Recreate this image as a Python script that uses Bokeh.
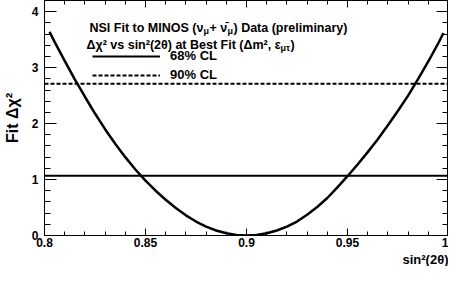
from bokeh.plotting import figure
from bokeh.models import Label, Legend, LegendItem, LinearAxis, FixedTicker, Range1d, Title
from bokeh.embed import file_html
from bokeh.resources import INLINE

# ---- data ----
sin2_2theta = [0.8025, 0.805, 0.81, 0.815, 0.82, 0.825, 0.83, 0.835, 0.84, 0.845, 0.85,
               0.855, 0.86, 0.865, 0.87, 0.875, 0.88, 0.885, 0.89, 0.895, 0.90,
               0.905, 0.91, 0.915, 0.92, 0.925, 0.93, 0.935, 0.94, 0.945, 0.95,
               0.955, 0.96, 0.965, 0.97, 0.975, 0.98, 0.985, 0.99, 0.995, 0.9975]
delta_chi2 = [3.64, 3.46, 3.12, 2.79, 2.48, 2.18, 1.90, 1.64, 1.40, 1.18, 0.98,
              0.80, 0.64, 0.49, 0.36, 0.25, 0.16, 0.09, 0.04, 0.01, 0.00,
              0.01, 0.04, 0.09, 0.16, 0.25, 0.37, 0.51, 0.67, 0.86, 1.06,
              1.27, 1.49, 1.72, 1.97, 2.23, 2.50, 2.80, 3.11, 3.44, 3.62]
cl_labels = ["68% CL", "90% CL"]
cl_levels = [1.07, 2.71]
x_ticks = [0.8, 0.85, 0.9, 0.95, 1.0]
x_tick_labels = ["0.8", "0.85", "0.9", "0.95", "1"]
y_ticks = [0, 1, 2, 3, 4]
y_tick_labels = ["0", "1", "2", "3", "4"]
x_lim = (0.8, 1.0)
y_lim = (0.0, 4.2)

FONT = "Liberation Sans"

x_minor = [round(0.8 + 0.01 * i, 2) for i in range(21)]
y_minor = [round(0.2 * i, 1) for i in range(22)]

p = figure(width=448, height=266, output_backend="svg", toolbar_location=None,
           x_range=Range1d(*x_lim), y_range=Range1d(*y_lim),
           min_border_left=36, min_border_right=0, min_border_top=0, min_border_bottom=0)
p.grid.visible = False
p.outline_line_color = "black"
p.outline_line_width = 1
p.background_fill_color = "white"
p.border_fill_color = "white"


def style_axis(ax, ticks, minor, labels, tin, tmin, show_labels):
    ax.ticker = FixedTicker(ticks=ticks, minor_ticks=minor)
    ax.major_tick_in = tin
    ax.major_tick_out = 0
    ax.minor_tick_in = tmin
    ax.minor_tick_out = 0
    ax.axis_line_color = "black"
    ax.major_tick_line_color = "black"
    ax.minor_tick_line_color = "black"
    ax.major_label_text_font = FONT
    ax.major_label_text_font_style = "bold"
    ax.major_label_text_color = "black"
    if show_labels:
        ax.major_label_overrides = dict(zip(ticks, labels))
        ax.major_label_text_font_size = "12px"
    else:
        ax.major_label_overrides = {t: "" for t in ticks}
        ax.major_label_text_font_size = "0px"
        ax.major_label_standoff = 0


style_axis(p.xaxis[0], x_ticks, x_minor, x_tick_labels, 7, 4, True)
p.xaxis[0].major_label_standoff = 2
style_axis(p.yaxis[0], y_ticks, y_minor, y_tick_labels, 12, 6, True)
p.yaxis[0].major_label_standoff = 6
p.yaxis[0].axis_label = "Fit Δχ²"
p.yaxis[0].axis_label_text_font = FONT
p.yaxis[0].axis_label_text_font_style = "bold"
p.yaxis[0].axis_label_text_font_size = "16px"
p.yaxis[0].axis_label_text_color = "black"
p.yaxis[0].axis_label_standoff = 8

top_ax = LinearAxis()
style_axis(top_ax, x_ticks, x_minor, x_tick_labels, 7, 4, False)
p.add_layout(top_ax, "above")
right_ax = LinearAxis()
style_axis(right_ax, y_ticks, y_minor, y_tick_labels, 12, 6, False)
p.add_layout(right_ax, "right")

# x axis title, right-aligned below the axis
p.add_layout(Title(text="sin²(2θ)", align="right", text_font=FONT, text_font_style="bold",
                   text_font_size="13px", text_color="black", standoff=0, offset=0), "below")

# curve
p.line(sin2_2theta, delta_chi2, line_color="black", line_width=2.5)

# CL levels
r68 = p.line([x_lim[0], x_lim[1]], [cl_levels[0], cl_levels[0]], line_color="black", line_width=2)
r90 = p.line([x_lim[0], x_lim[1]], [cl_levels[1], cl_levels[1]], line_color="black",
             line_width=2, line_dash="4 2")

legend = Legend(items=[LegendItem(label=cl_labels[0], renderers=[r68]),
                       LegendItem(label=cl_labels[1], renderers=[r90])],
                location=(48, 153), orientation="vertical",
                border_line_color=None, background_fill_alpha=0,
                padding=0, margin=0, glyph_width=68, glyph_height=14,
                label_standoff=10, spacing=4, label_height=14,
                label_text_font=FONT, label_text_font_style="bold",
                label_text_font_size="13px", label_text_color="black")
p.add_layout(legend, "center")


def lab(text, x, y, size="12.5px", **kw):
    p.add_layout(Label(x=x, y=y, x_units="screen", y_units="screen", text=text,
                       text_font=FONT, text_font_style="bold", text_font_size=size,
                       text_color="black", text_baseline="alphabetic", **kw))


# header line 1
X1, Y1 = 45, 208
lab("NSI Fit to MINOS (ν", X1, Y1)
lab("μ", X1 + 114, Y1 - 3, size="9px")
lab("+ ν̄", X1 + 120, Y1)
lab("μ", X1 + 138, Y1 - 3, size="9px")
lab(") Data (preliminary)", X1 + 144, Y1)
# header line 2
X2, Y2 = 42, 191
lab("Δχ² vs sin²(2θ) at Best Fit (Δm², ε", X2, Y2)
lab("μτ", X2 + 194, Y2 - 3, size="9px")
lab(")", X2 + 204, Y2)

open("out.html", "w").write(file_html(p, INLINE))
